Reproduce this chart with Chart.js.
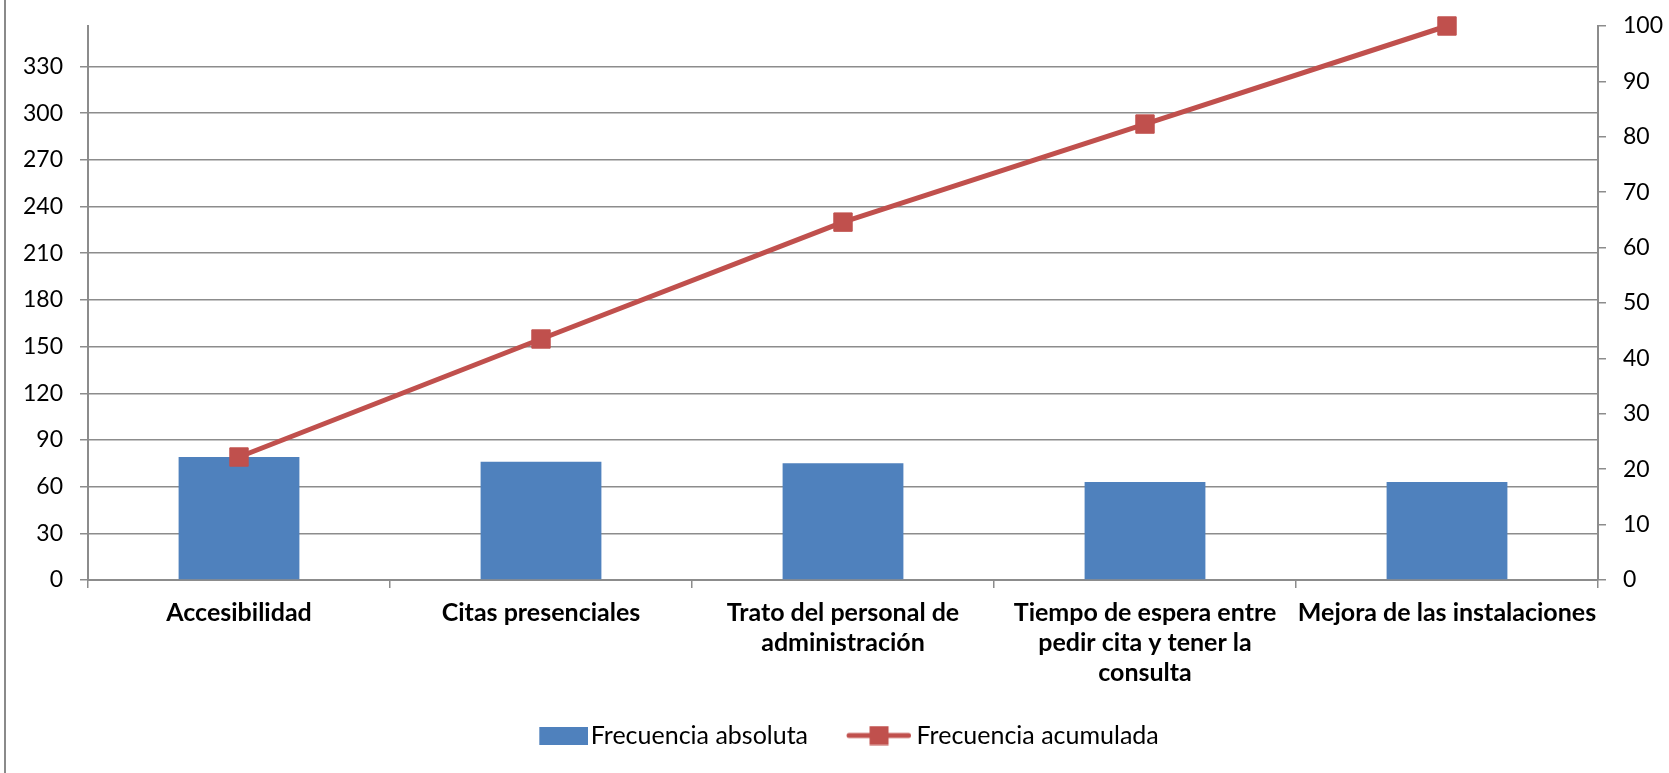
<!DOCTYPE html>
<html>
<head>
<meta charset="utf-8">
<script src="https://cdn.jsdelivr.net/npm/chart.js@4.4.0/dist/chart.umd.min.js"></script>
<style>
html,body{margin:0;padding:0;background:#fff;}
#wrap{position:relative;width:1669px;height:773px;overflow:hidden;background:#fff;}
#frame{position:absolute;left:4px;top:0;width:2px;height:773px;background:#8a8a8a;}
canvas{position:absolute;left:0;top:0;}
</style>
</head>
<body>
<div id="wrap"><canvas id="c" width="1669" height="773"></canvas><div id="frame"></div></div>
<script>
// ---- data ----
const categories = [
  "Accesibilidad",
  "Citas presenciales",
  ["Trato del personal de", "administración"],
  ["Tiempo de espera entre", "pedir cita y tener la", "consulta"],
  "Mejora de las instalaciones"
];
const seriesNames = ["Frecuencia absoluta", "Frecuencia acumulada"];
const frecuenciaAbsoluta = [79, 76, 75, 63, 63];
const frecuenciaAcumulada = [22.2, 43.5, 64.6, 82.3, 100];
const leftAxisMax = 356;
const leftAxisStep = 30;
const rightAxisMax = 100;
const rightAxisStep = 10;

// ---- style ----
const BLUE = '#4F81BD';
const RED = '#C0504D';
const GRID = '#8c8c8c';
const FONT = 'Lato';
const LEG_W = 68;            // legend box slot width
const LEG_IMG_W = 82;        // legend symbol image width (centred in slot)

function makeBarLegendImg() {
  const c = document.createElement('canvas');
  c.width = LEG_IMG_W + 6; c.height = 18;
  const g = c.getContext('2d');
  g.fillStyle = BLUE;
  g.fillRect(c.width - 49, 0, 49, 18);
  return c;
}
function makeLineLegendImg() {
  const c = document.createElement('canvas');
  c.width = LEG_IMG_W; c.height = 20;
  const g = c.getContext('2d');
  g.strokeStyle = RED; g.lineWidth = 5; g.lineCap = 'round';
  g.beginPath(); g.moveTo(LEG_IMG_W - 62, 10); g.lineTo(LEG_IMG_W - 2.5, 10); g.stroke();
  g.fillStyle = RED;
  g.fillRect(LEG_IMG_W - 32 - 9.5, 0.5, 19, 19);
  return c;
}
const barLegendImg = makeBarLegendImg();
const lineLegendImg = makeLineLegendImg();

const ctx = document.getElementById('c').getContext('2d');
new Chart(ctx, {
  data: {
    labels: categories,
    datasets: [
      {
        type: 'bar',
        label: seriesNames[0],
        data: frecuenciaAbsoluta,
        backgroundColor: BLUE,
        borderWidth: 0,
        yAxisID: 'y',
        barPercentage: 0.4,
        categoryPercentage: 1.0,
        order: 2
      },
      {
        type: 'line',
        label: seriesNames[1],
        data: frecuenciaAcumulada,
        borderColor: RED,
        backgroundColor: RED,
        borderWidth: 5,
        borderJoinStyle: 'round',
        borderCapStyle: 'round',
        pointStyle: 'rect',
        pointRadius: 13,
        pointBorderWidth: 1,
        pointBorderColor: RED,
        pointBackgroundColor: RED,
        tension: 0,
        fill: false,
        clip: false,
        yAxisID: 'y1',
        order: 1
      }
    ]
  },
  options: {
    responsive: false,
    animation: false,
    events: [],
    layout: { padding: { top: 26, left: 0, right: 0, bottom: 15 } },
    plugins: {
      tooltip: { enabled: false },
      legend: {
        position: 'bottom',
        labels: {
          usePointStyle: true,
          pointStyleWidth: LEG_W,
          boxHeight: 18,
          padding: 28,
          color: '#000',
          font: { family: FONT, size: 25 },
          generateLabels(chart) {
            const items = Chart.defaults.plugins.legend.labels.generateLabels(chart);
            items.forEach(it => {
              it.pointStyle = it.datasetIndex === 0 ? barLegendImg : lineLegendImg;
              it.lineWidth = 0;
              it.fontColor = '#000';
            });
            return items.sort((a, b) => a.datasetIndex - b.datasetIndex);
          }
        }
      }
    },
    scales: {
      x: {
        type: 'category',
        offset: true,
        grid: { drawOnChartArea: false, drawTicks: true, tickLength: 8, color: GRID, lineWidth: 1.5, offset: true },
        border: { display: true, color: GRID, width: 2 },
        ticks: {
          color: '#000',
          padding: 10,
          maxRotation: 0,
          minRotation: 0,
          autoSkip: false,
          font: { family: FONT, size: 25, weight: 'bold', lineHeight: 1.2 }
        },
        afterFit(scale) { scale.height = 115; }
      },
      y: {
        type: 'linear',
        position: 'left',
        min: 0,
        max: leftAxisMax,
        bounds: 'data',
        grid: { drawOnChartArea: true, drawTicks: true, tickLength: 8, color: GRID, lineWidth: 1.5 },
        border: { display: true, color: GRID, width: 2 },
        ticks: {
          stepSize: leftAxisStep,
          includeBounds: false,
          color: '#000',
          padding: 17,
          font: { family: FONT, size: 23, lineHeight: 0.5 }
        },
        afterBuildTicks(scale) {
          scale.ticks = scale.ticks.filter(t => t.value % leftAxisStep === 0);
        },
        afterFit(scale) { scale.width = 88; }
      },
      y1: {
        type: 'linear',
        position: 'right',
        min: 0,
        max: rightAxisMax,
        bounds: 'data',
        grid: { drawOnChartArea: false, drawTicks: true, tickLength: 8, color: GRID, lineWidth: 1.5 },
        border: { display: true, color: GRID, width: 2 },
        ticks: {
          stepSize: rightAxisStep,
          color: '#000',
          padding: 17,
          font: { family: FONT, size: 23, lineHeight: 0.5 }
        },
        afterFit(scale) { scale.width = 71; }
      }
    }
  }
});
</script>
</body>
</html>
